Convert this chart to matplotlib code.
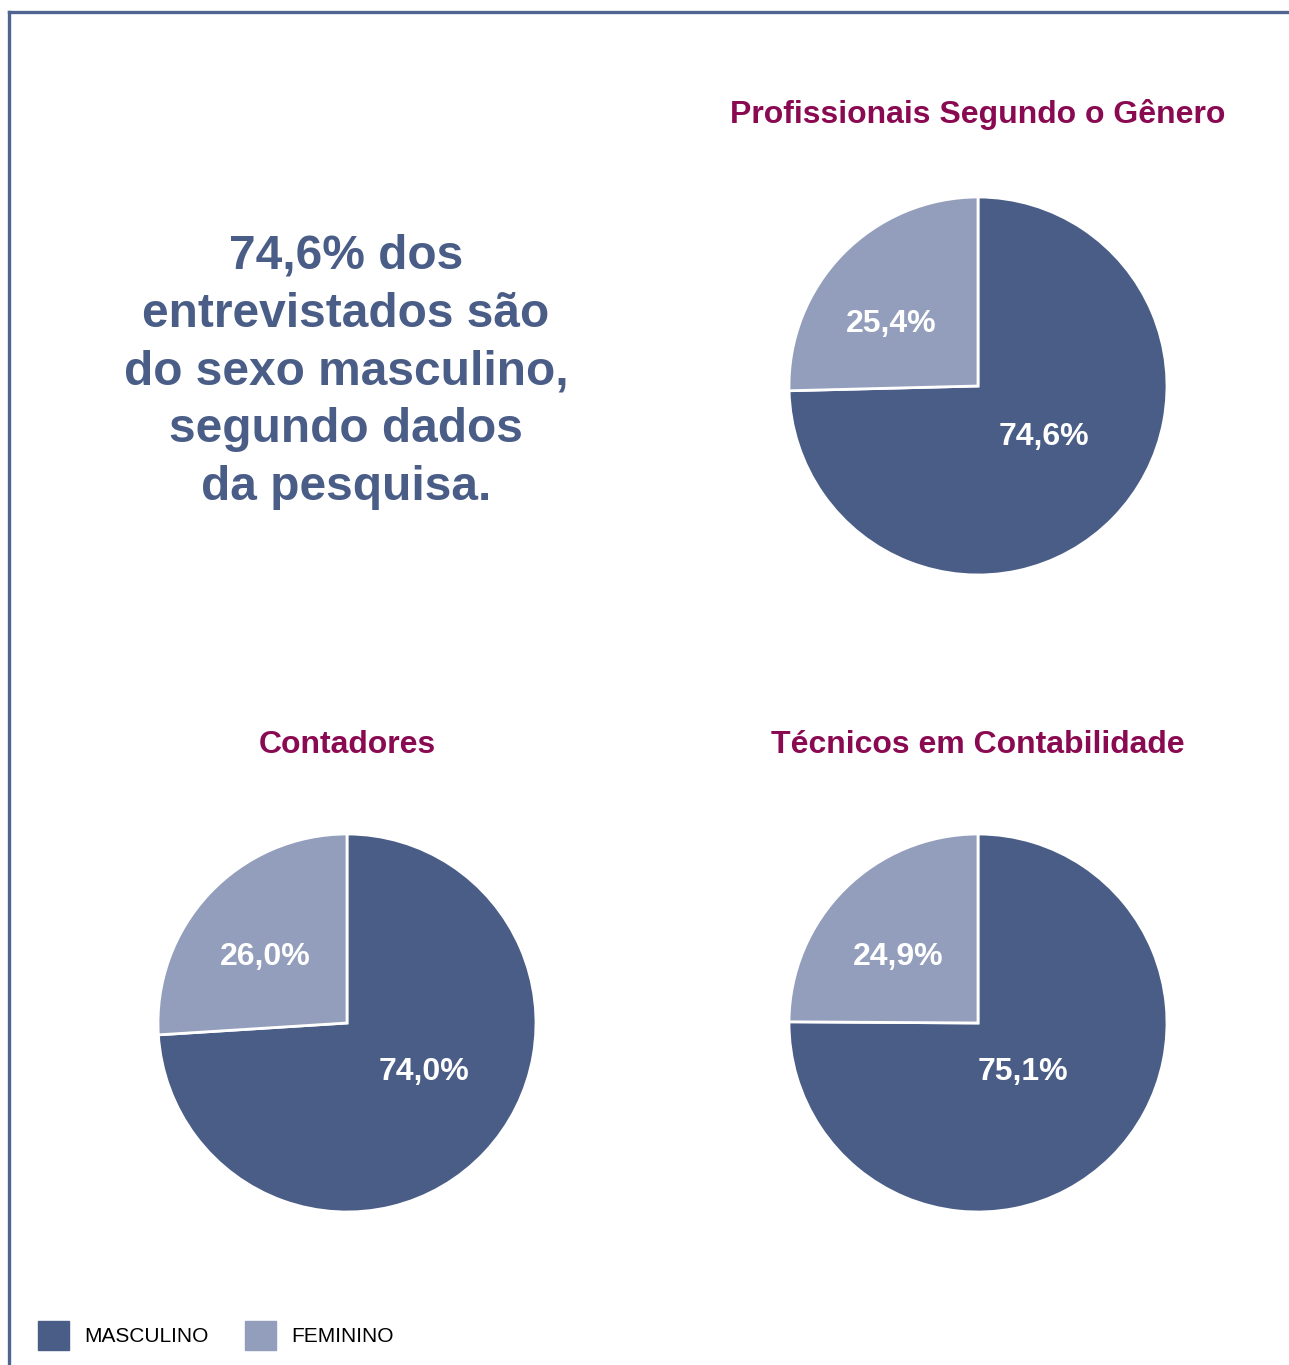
import numpy as np
import matplotlib.pyplot as plt
from matplotlib.lines import Line2D
from matplotlib.patches import Rectangle

plt.rcParams['font.family'] = ['Liberation Sans', 'DejaVu Sans']

# data
titles = ["Profissionais Segundo o Gênero", "Contadores", "Técnicos em Contabilidade"]
masculino = [74.6, 74.0, 75.1]
feminino = [25.4, 26.0, 24.9]
categories = ["MASCULINO", "FEMININO"]
headline = "74,6% dos\nentrevistados são\ndo sexo masculino,\nsegundo dados\nda pesquisa."

dark = '#4a5d87'
light = '#939ebc'
title_color = '#8a0a52'

W, H = 1289, 1365
fig = plt.figure(figsize=(W / 100, H / 100), dpi=100)

# frame lines (top and left)
fig.add_artist(Line2D([8.5 / W, 1], [1 - 11.5 / H, 1 - 11.5 / H], color='#4f6590', lw=2.4))
fig.add_artist(Line2D([8.5 / W, 8.5 / W], [0, 1 - 11.5 / H], color='#4f6590', lw=2.4))

# pie placements in pixels: center x, center y, radius
centers = [(978, 386), (347, 1023), (978, 1023)]
radius_px = 189
title_y = [114, 745, 745]
# label offsets from the pie centre, in pie-radius units
masc_off = [(0.35, -0.27), (0.41, -0.26), (0.24, -0.26)]
fem_off = [(-0.46, 0.33), (-0.43, 0.35), (-0.42, 0.35)]

for i in range(3):
    cx, cy = centers[i]
    ax = fig.add_axes([(cx - radius_px) / W, (H - cy - radius_px) / H,
                       2 * radius_px / W, 2 * radius_px / H])
    vals = [masculino[i], feminino[i]]
    wedges, _ = ax.pie(vals, colors=[dark, light], startangle=90, counterclock=False,
                       radius=1, wedgeprops=dict(edgecolor='white', linewidth=2))
    ax.set_xlim(-1.0, 1.0)
    ax.set_ylim(-1.0, 1.0)
    ax.set_aspect('equal')
    for v, (dx, dy) in zip(vals, [masc_off[i], fem_off[i]]):
        ax.text(dx, dy, f"{v:.1f}%".replace('.', ','),
                color='white', fontsize=23, fontweight='bold', ha='center', va='center')
    fig.text(cx / W, 1 - title_y[i] / H, titles[i], color=title_color,
             fontsize=23, fontweight='bold', ha='center', va='center')

# headline text
fig.text(346 / W, 1 - 372 / H, headline, color=dark, fontsize=34.5, fontweight='bold',
         ha='center', va='center', linespacing=1.37)

# legend
legend_x = [38, 245]
for x0, lab, col in zip(legend_x, categories, [dark, light]):
    fig.add_artist(Rectangle((x0 / W, 1 - 1350 / H), 31 / W, 29 / H, color=col,
                             transform=fig.transFigure))
    fig.text((x0 + 46) / W, 1 - 1336 / H, lab, color='black', fontsize=15,
             ha='left', va='center')

fig.savefig('out.png', dpi=100, facecolor='white')
